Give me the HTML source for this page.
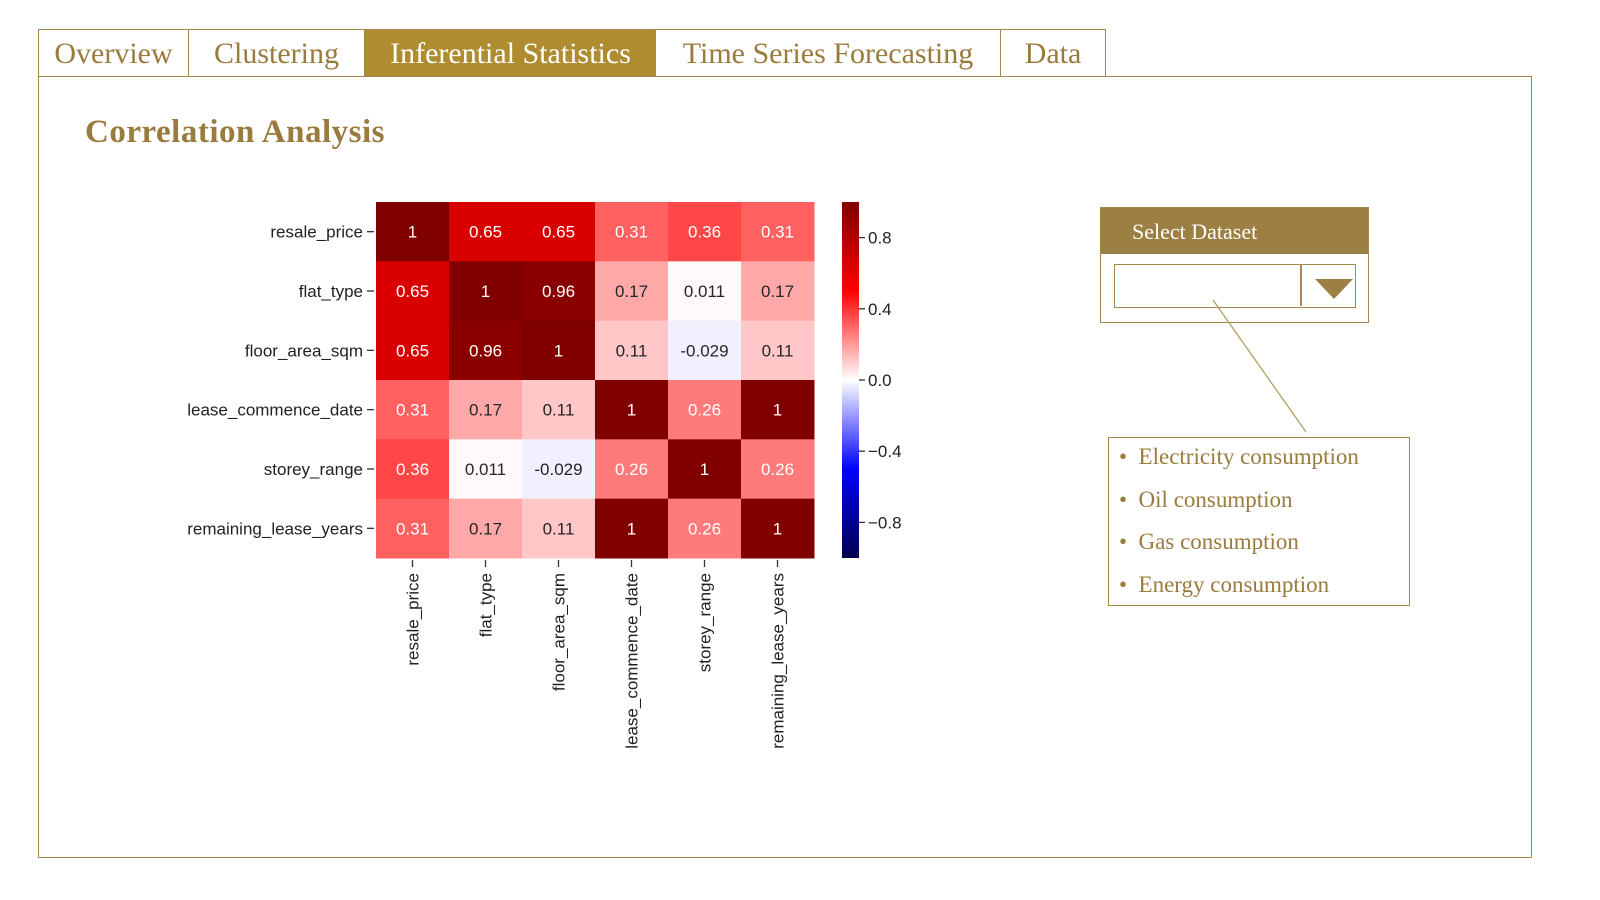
<!DOCTYPE html>
<html><head><meta charset="utf-8"><style>
body{margin:0;width:1600px;height:900px;background:#fff;position:relative;overflow:hidden;font-family:"Liberation Serif",serif}
.tab{position:absolute;top:29px;height:48px;border:1.5px solid #a48a4a;box-sizing:border-box;color:#9a7b3e;font-size:30px;line-height:48px;text-align:center;background:#fff}
.panel{position:absolute;left:38px;top:76px;width:1494px;height:782px;border:1.5px solid #a48a4a;box-sizing:border-box}
</style></head><body>
<div class="panel"></div>
<div class="tab" style="left:38px;width:151px">Overview</div>
<div class="tab" style="left:188px;width:177px">Clustering</div>
<div class="tab" style="left:365px;width:291px;background:#ae8c2f;color:#fff">Inferential Statistics</div>
<div class="tab" style="left:655px;width:346px">Time Series Forecasting</div>
<div class="tab" style="left:1000px;width:106px">Data</div>
<div style="position:absolute;left:85px;top:114px;font-size:33px;font-weight:bold;color:#9a7b3e;letter-spacing:0.5px">Correlation Analysis</div>

<svg id="chart" style="position:absolute;left:0;top:0" width="1600" height="900"></svg>

<div style="position:absolute;left:1100px;top:207px;width:269px;height:116px;border:1.5px solid #a48a4a;box-sizing:border-box">
 <div style="height:46px;background:#9c7f42;color:#fff;font-size:22px;line-height:48px;padding-left:31px">Select Dataset</div>
 <div style="position:absolute;left:13px;top:56px;width:242px;height:44px;border:1.5px solid #a48a4a;box-sizing:border-box">
  <div style="position:absolute;left:185px;top:0;width:1.5px;height:41px;background:#a48a4a"></div>
  <div style="position:absolute;left:200px;top:14px;width:0;height:0;border-left:19px solid transparent;border-right:19px solid transparent;border-top:20px solid #9c7f42"></div>
 </div>
</div>
<svg style="position:absolute;left:0;top:0" width="1600" height="900"><line x1="1213" y1="300" x2="1306" y2="432" stroke="#b09a5a" stroke-width="1.2"/></svg>
<div style="position:absolute;left:1108px;top:437px;width:302px;height:169px;border:1.5px solid #a48a4a;box-sizing:border-box;color:#9a7b3e;font-size:23px">
 <div style="position:absolute;left:10px;top:-2px;line-height:42.5px">
  <div>•&nbsp; Electricity consumption</div>
  <div>•&nbsp; Oil consumption</div>
  <div>•&nbsp; Gas consumption</div>
  <div>•&nbsp; Energy consumption</div>
 </div>
</div>

<script>
const labels=["resale_price","flat_type","floor_area_sqm","lease_commence_date","storey_range","remaining_lease_years"];
const row0=[1,0.65,0.65,0.31,0.36,0.31];
const row1=[0.65,1,0.96,0.17,0.011,0.17];
const row2=[0.65,0.96,1,0.11,-0.029,0.11];
const row3=[0.31,0.17,0.11,1,0.26,1];
const row4=[0.36,0.011,-0.029,0.26,1,0.26];
const row5=[0.31,0.17,0.11,1,0.26,1];
const matrix=[row0,row1,row2,row3,row4,row5];
const cbTicks=[0.8,0.4,0.0,-0.4,-0.8];
const cbTickLabels=["0.8","0.4","0.0","\u22120.4","\u22120.8"];

const NS="http://www.w3.org/2000/svg";
const svg=document.getElementById('chart');
const X0=376,X1=814,Y0=202,Y1=558,n=labels.length;
const cw=(X1-X0)/n,ch=(Y1-Y0)/n;
const xPos=i=>X0+i*cw, yPos=i=>Y0+i*ch;
const CB0=842,CB1=859;
const cbY=v=>Y0+(1-v)/2*(Y1-Y0);
function seismic(v){
  const t=(v+1)/2;
  const stops=[[0,0,0,76],[0.25,0,0,255],[0.5,255,255,255],[0.75,255,0,0],[1,128,0,0]];
  for(let i=0;i<4;i++){const a=stops[i],b=stops[i+1];
    if(t<=b[0]){const f=(t-a[0])/(b[0]-a[0]);
      return `rgb(${Math.round(a[1]+(b[1]-a[1])*f)},${Math.round(a[2]+(b[2]-a[2])*f)},${Math.round(a[3]+(b[3]-a[3])*f)})`;}}
  return 'rgb(128,0,0)';
}
function mk(tag,attrs,txt){const e=document.createElementNS(NS,tag);for(const k in attrs)e.setAttribute(k,attrs[k]);if(txt!==undefined)e.textContent=txt;svg.appendChild(e);return e;}
const font='"Liberation Sans","DejaVu Sans",sans-serif';
matrix.forEach((row,r)=>row.forEach((v,c)=>{
  const rc=mk('rect',{x:xPos(c),y:yPos(r),width:cw+0.5,height:ch+0.5,fill:seismic(v)});
  
  
  const t=mk('text',{x:xPos(c)+cw/2,y:yPos(r)+ch/2+6,'text-anchor':'middle','font-family':font,'font-size':17,fill:Math.abs(v)<0.2?'#262626':'#fff'},String(v));
  
  
}));
labels.forEach((l,i)=>{
  const y=yPos(i)+ch/2;
  mk('line',{x1:367,x2:374,y1:y,y2:y,stroke:'#333','stroke-width':1.3});
  const t=mk('text',{x:363,y:y+6,'text-anchor':'end','font-family':font,'font-size':17,fill:'#222'},l);
  
  
  const x=xPos(i)+cw/2;
  mk('line',{x1:x,x2:x,y1:560,y2:567,stroke:'#333','stroke-width':1.3});
  const u=mk('text',{x:x+6,y:573,'text-anchor':'end','font-family':font,'font-size':17,fill:'#222',transform:`rotate(-90 ${x+6} 573)`},l);
  
  
});
const defs=mk('defs',{});
const lg=document.createElementNS(NS,'linearGradient');
lg.setAttribute('id','cbg');lg.setAttribute('x1','0');lg.setAttribute('y1','0');lg.setAttribute('x2','0');lg.setAttribute('y2','1');
[1,0.5,0,-0.5,-1].forEach((v,i)=>{const s=document.createElementNS(NS,'stop');s.setAttribute('offset',i/4);s.setAttribute('stop-color',seismic(v));lg.appendChild(s);});
defs.appendChild(lg);
const cb=mk('rect',{x:CB0,y:Y0,width:CB1-CB0,height:Y1-Y0,fill:'url(#cbg)'});


cbTicks.forEach((v,i)=>{
  const y=cbY(v);
  mk('line',{x1:CB1,x2:CB1+6,y1:y,y2:y,stroke:'#333','stroke-width':1.3});
  const t=mk('text',{x:CB1+9,y:y+6,'font-family':font,'font-size':17,fill:'#222'},cbTickLabels[i]);
  
  
});
</script>
</body></html>
